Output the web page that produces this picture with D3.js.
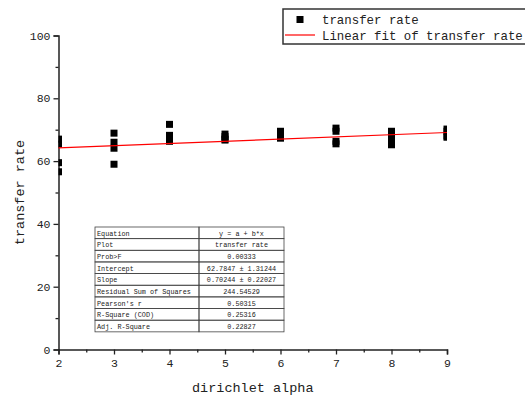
<!DOCTYPE html>
<html>
<head>
<meta charset="utf-8">
<script src="https://cdn.jsdelivr.net/npm/d3@7"></script>
<style>
  body { margin: 0; background: #fff; }
  text { font-family: "Liberation Mono", "DejaVu Sans Mono", monospace; fill: #222; }
</style>
</head>
<body>
<div id="chart"></div>
<script>
//Datos
const alphas = [2, 3, 4, 5, 6, 7, 8, 9];
const rates = [
    [67.0, 65.4, 59.5, 56.6],
    [68.9, 66.0, 64.1, 59.0],
    [71.7, 68.2, 67.3, 66.3],
    [68.6, 67.8, 67.0, 66.7],
    [69.5, 68.5, 67.6, 67.3],
    [70.5, 69.5, 66.3, 65.5],
    [69.5, 68.0, 66.0, 65.2],
    [70.2, 69.5, 68.0, 67.6]
];
const fitIntercept = 62.7847, fitSlope = 0.70244;
const xTicks = [2, 3, 4, 5, 6, 7, 8, 9];
const yTicks = [0, 20, 40, 60, 80, 100];
const tableRows = [
    ['Equation', 'y = a + b*x'],
    ['Plot', 'transfer rate'],
    ['Prob>F', '0.00333'],
    ['Intercept', '62.7847 \u00b1 1.31244'],
    ['Slope', '0.70244 \u00b1 0.22027'],
    ['Residual Sum of Squares', '244.54529'],
    ["Pearson's r", '0.50315'],
    ['R-Square (COD)', '0.25316'],
    ['Adj. R-Square', '0.22827']
];

let margin = {top: 35.5, right: 78, bottom: 49.5, left: 58.5},
    W = 525, H = 399,
    width = W - margin.left - margin.right,
    height = H - margin.top - margin.bottom;

let svg = d3.select('#chart').append('svg')
    .attr('width', W).attr('height', H);

let g = svg.append('g')
    .attr('transform', 'translate(' + margin.left + ',' + margin.top + ')');

let x = d3.scaleLinear().domain([2, 9]).range([0, width]);
let y = d3.scaleLinear().domain([0, 100]).range([height, 0]);

//Clip del área
svg.append('clipPath').attr('id', 'plotclip')
    .append('rect').attr('width', width).attr('height', height);

//Tabla de ajuste
let tbl = {left: 95 - margin.left, right: 284 - margin.left, split: 199 - margin.left, top: 227 - margin.top, rowH: 11.65};
let tg = g.append('g');
tableRows.forEach(function(r, i) {
    let ty = tbl.top + i * tbl.rowH;
    tg.append('rect').attr('x', tbl.left).attr('y', ty)
        .attr('width', tbl.split - tbl.left).attr('height', tbl.rowH)
        .attr('fill', 'none').attr('stroke', '#444').attr('stroke-width', 0.8);
    tg.append('rect').attr('x', tbl.split).attr('y', ty)
        .attr('width', tbl.right - tbl.split).attr('height', tbl.rowH)
        .attr('fill', 'none').attr('stroke', '#444').attr('stroke-width', 0.8);
    tg.append('text').attr('x', tbl.left + 2).attr('y', ty + tbl.rowH - 3)
        .attr('font-size', 6.8).text(r[0]);
    tg.append('text').attr('x', (tbl.split + tbl.right) / 2).attr('y', ty + tbl.rowH - 3)
        .attr('text-anchor', 'middle').attr('font-size', 6.8).text(r[1]);
});

//Ejes
let xAxis = g.append('g').attr('transform', 'translate(0,' + height + ')')
    .call(d3.axisBottom(x).tickValues(xTicks).tickFormat(d3.format('d')).tickSize(5).tickPadding(4));
let xMinor = g.append('g').attr('transform', 'translate(0,' + height + ')')
    .call(d3.axisBottom(x).tickValues(d3.range(2.5, 9, 1)).tickFormat('').tickSize(3));
let yAxis = g.append('g')
    .call(d3.axisLeft(y).tickValues(yTicks).tickSize(5).tickPadding(3));
let yMinor = g.append('g')
    .call(d3.axisLeft(y).tickValues(d3.range(10, 100, 20)).tickFormat('').tickSize(3));

[xAxis, xMinor, yAxis, yMinor].forEach(function(a) {
    a.select('.domain').attr('stroke', '#222').attr('stroke-width', 1.5);
    a.selectAll('.tick line').attr('stroke', '#222').attr('stroke-width', 1.3);
    a.selectAll('.tick text').attr('font-size', 11.5).attr('fill', '#222')
        .style('font-family', '"Liberation Mono", monospace');
});
xMinor.select('.domain').remove();
yMinor.select('.domain').remove();

//Puntos
let pts = [];
alphas.forEach(function(a, i) {
    rates[i].forEach(function(v) { pts.push({a: a, v: v}); });
});
let ms = 7;
g.append('g').attr('clip-path', 'url(#plotclip)')
    .selectAll('rect').data(pts).enter().append('rect')
    .attr('x', function(d) { return x(d.a) - ms / 2; })
    .attr('y', function(d) { return y(d.v) - ms / 2; })
    .attr('width', ms).attr('height', ms)
    .attr('fill', '#000');

//Recta de ajuste
g.append('line')
    .attr('x1', x(2)).attr('y1', y(fitIntercept + fitSlope * 2))
    .attr('x2', x(9)).attr('y2', y(fitIntercept + fitSlope * 9))
    .attr('stroke', '#ff0000').attr('stroke-width', 1.2);

//Títulos de ejes
svg.append('text').attr('x', margin.left + width / 2).attr('y', 392)
    .attr('text-anchor', 'middle').attr('font-size', 13.5).text('dirichlet alpha');
svg.append('text')
    .attr('transform', 'translate(24,' + (margin.top + height / 2) + ') rotate(-90)')
    .attr('text-anchor', 'middle').attr('font-size', 13.5).text('transfer rate');

//Leyenda
let lg = svg.append('g');
lg.append('rect').attr('x', 283).attr('y', 9).attr('width', 250).attr('height', 35)
    .attr('fill', '#fff').attr('stroke', '#333').attr('stroke-width', 1.5);
lg.append('rect').attr('x', 300 - ms / 2).attr('y', 19.5 - ms / 2)
    .attr('width', ms).attr('height', ms).attr('fill', '#000');
lg.append('line').attr('x1', 285).attr('x2', 315).attr('y1', 35).attr('y2', 35)
    .attr('stroke', '#ff0000').attr('stroke-width', 1.2);
lg.append('text').attr('x', 322).attr('y', 23.5).attr('font-size', 12.4).text('transfer rate');
lg.append('text').attr('x', 322).attr('y', 40).attr('font-size', 12.4).text('Linear fit of transfer rate');
</script>
</body>
</html>
